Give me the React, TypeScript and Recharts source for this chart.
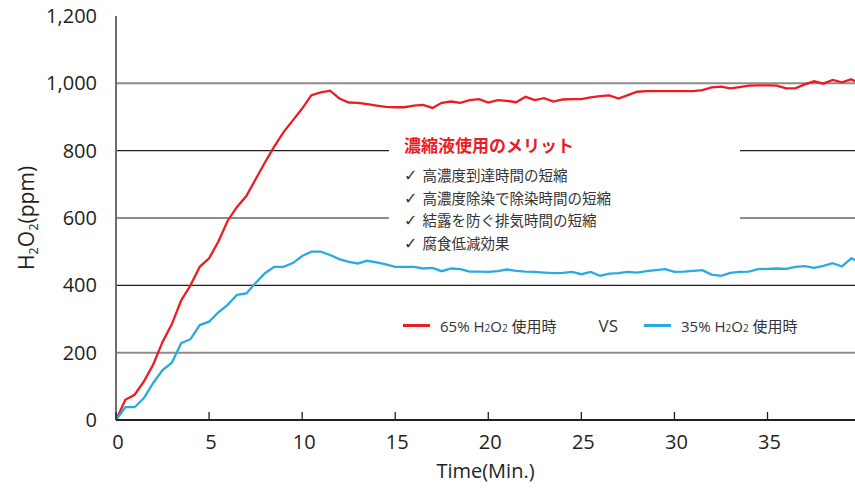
import { LineChart, Line, XAxis, YAxis, CartesianGrid, Label } from 'recharts'

// time in minutes
const minutes = [
  0, 0.5, 1, 1.5, 2, 2.5, 3, 3.5, 4, 4.5, 5, 5.5, 6, 6.5, 7, 7.5, 8, 8.5, 9, 9.5,
  10, 10.5, 11, 11.5, 12, 12.5, 13, 13.5, 14, 14.5, 15, 15.5, 16, 16.5, 17, 17.5, 18, 18.5, 19, 19.5,
  20, 20.5, 21, 21.5, 22, 22.5, 23, 23.5, 24, 24.5, 25, 25.5, 26, 26.5, 27, 27.5, 28, 28.5, 29, 29.5,
  30, 30.5, 31, 31.5, 32, 32.5, 33, 33.5, 34, 34.5, 35, 35.5, 36, 36.5, 37, 37.5, 38, 38.5, 39, 39.5, 40,
]

// 65% H2O2 (ppm)
const conc65 = [
  0, 60, 75, 115, 165, 232, 285, 355, 400, 455, 480, 530, 592, 633, 665, 715, 765, 812, 855, 890,
  925, 965, 973, 978, 955, 943, 942, 938, 934, 930, 929, 929, 934, 936, 927, 942, 946, 942, 950, 953,
  943, 950, 948, 944, 960, 950, 956, 946, 952, 953, 953, 958, 962, 964, 955, 965, 975, 977, 977, 977,
  977, 977, 977, 980, 988, 990, 985, 989, 993, 994, 994, 993, 985, 985, 997, 1006, 999, 1010, 1003, 1012, 998,
]

// 35% H2O2 (ppm)
const conc35 = [
  0, 38, 38, 65, 110, 148, 170, 228, 240, 282, 292, 320, 342, 372, 376, 407, 436, 455, 455, 466,
  487, 500, 500, 490, 478, 470, 465, 473, 468, 462, 455, 455, 455, 450, 452, 442, 450, 448, 441, 441,
  440, 442, 447, 443, 441, 440, 438, 436, 437, 440, 433, 440, 428, 435, 436, 440, 438, 442, 445, 448,
  440, 441, 443, 445, 432, 428, 437, 440, 441, 448, 449, 450, 449, 455, 457, 452, 458, 466, 456, 480, 468,
]

const xTicks = [0, 5, 10, 15, 20, 25, 30, 35]
const yTicks = [0, 200, 400, 600, 800, 1000, 1200]
const gridValues = [200, 400, 600, 800, 1000]

const merits = [
  '高濃度到達時間の短縮',
  '高濃度除染で除染時間の短縮',
  '結露を防ぐ排気時間の短縮',
  '腐食低減効果',
]

const RED = '#ec1c24'
const BLUE = '#29abe2'
const INK = '#231f20'
const FONT = '"Open Sans", "Noto Sans CJK JP", sans-serif'
const JP = '"Noto Sans CJK JP", "Open Sans", sans-serif'

const data = minutes.map((t, i) => ({ t, c65: conc65[i], c35: conc35[i] }))

const TICK_GAP = 12

function TimeTick(props: any) {
  const { x, y, payload } = props
  const axisY = y - TICK_GAP
  return (
    <g>
      <line x1={x} x2={x} y1={axisY} y2={axisY - 8} stroke={INK} strokeWidth={1.3} />
      <text x={x + 2} y={y} dy="0.85em" textAnchor="middle" fill={INK} fontSize={20} fontFamily={FONT}>
        {payload.value}
      </text>
    </g>
  )
}

function GridLine(props: any) {
  const { x1, x2, y1, y2, index } = props
  const gray = index % 2 === 0
  return (
    <line
      key={`g-${index}`}
      x1={x1}
      x2={x2}
      y1={y1}
      y2={y2}
      stroke={gray ? '#8c8c8c' : INK}
      strokeWidth={gray ? 2 : 1.3}
    />
  )
}

function YTitle(props: any) {
  const { viewBox } = props
  const cx = viewBox.x + 34
  const cy = viewBox.y + viewBox.height / 2
  return (
    <text
      x={cx}
      y={cy}
      transform={`rotate(-90 ${cx} ${cy})`}
      textAnchor="middle"
      fill={INK}
      fontSize={21}
      fontFamily={FONT}
    >
      H<tspan fontSize={13} dy={4}>2</tspan>
      <tspan dy={-4}>O</tspan>
      <tspan fontSize={13} dy={4}>2</tspan>
      <tspan dy={-4}>(ppm)</tspan>
    </text>
  )
}

function Formula({ pct }: { pct: string }) {
  return (
    <span>
      {pct}% H<span style={{ fontSize: 10 }}>2</span>O<span style={{ fontSize: 10 }}>2</span>{' '}
      <span style={{ fontFamily: JP }}>使用時</span>
    </span>
  )
}

function LegendBox() {
  const swatch = (c: string) => (
    <span style={{ display: 'inline-block', width: 27, height: 2.5, background: c, marginRight: 10 }} />
  )
  return (
    <div
      style={{
        position: 'absolute',
        left: 403,
        top: 314,
        display: 'flex',
        alignItems: 'center',
        fontSize: 15,
        color: '#333',
        fontFamily: FONT,
        whiteSpace: 'nowrap',
      }}
    >
      {swatch(RED)}
      <Formula pct="65" />
      <span style={{ marginLeft: 42, marginRight: 26, fontSize: 17 }}>VS</span>
      {swatch(BLUE)}
      <Formula pct="35" />
    </div>
  )
}

export default function App() {
  return (
    <div style={{ position: 'absolute', left: 0, top: 0, width: 855, height: 488, background: '#fff' }}>
      <LineChart width={855} height={488} data={data} margin={{ top: 16, right: 0, bottom: 0, left: 0 }}>
        <CartesianGrid vertical={false} horizontalValues={gridValues} horizontal={GridLine} />
        <XAxis
          dataKey="t"
          type="number"
          domain={[0, 39.7]}
          allowDataOverflow
          ticks={xTicks}
          height={68}
          tickSize={0}
          tickMargin={TICK_GAP}
          tick={<TimeTick />}
          axisLine={{ stroke: INK, strokeWidth: 2 }}
        >
          <Label
            value="Time(Min.)"
            position="insideBottom"
            offset={10}
            fill={INK}
            fontSize={20}
            fontFamily={FONT}
          />
        </XAxis>
        <YAxis
          type="number"
          domain={[0, 1200]}
          ticks={yTicks}
          width={116}
          tickSize={0}
          tickMargin={19}
          tickFormatter={(v) => v.toLocaleString('en-US')}
          tick={{ fill: INK, fontSize: 20, fontFamily: FONT }}
          axisLine={{ stroke: '#6d6e71', strokeWidth: 2 }}
        >
          <Label content={<YTitle />} />
        </YAxis>
        <Line
          type="linear"
          dataKey="c65"
          stroke={RED}
          strokeWidth={2.3}
          dot={false}
          isAnimationActive={false}
        />
        <Line
          type="linear"
          dataKey="c35"
          stroke={BLUE}
          strokeWidth={2.3}
          dot={false}
          isAnimationActive={false}
        />
      </LineChart>
      <LegendBox />
      <div
        style={{
          position: 'absolute',
          left: 389,
          top: 130,
          width: 351,
          height: 124,
          background: '#fff',
          fontFamily: JP,
          color: '#333',
          boxSizing: 'border-box',
          paddingLeft: 15,
          paddingTop: 3,
        }}
      >
        <div style={{ color: RED, fontWeight: 700, fontSize: 17, lineHeight: '24px', marginBottom: 7 }}>
          濃縮液使用のメリット
        </div>
        {merits.map((m) => (
          <div key={m} style={{ fontSize: 14.5, lineHeight: '21.7px', whiteSpace: 'nowrap' }}>
            <span style={{ fontFamily: '"DejaVu Sans"', fontSize: 16, marginRight: 5 }}>✓</span>
            {m}
          </div>
        ))}
      </div>
    </div>
  )
}
